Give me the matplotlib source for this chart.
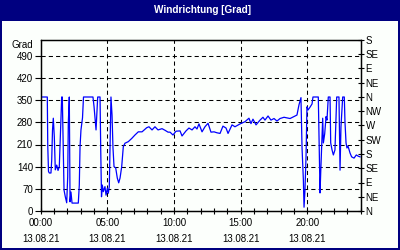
import matplotlib
matplotlib.use("Agg")
import matplotlib.pyplot as plt
from matplotlib.patches import Rectangle

# ---- data (hours since 13.08.21 00:00, wind direction in degrees) ----
hours = [0.0, 0.495, 0.53, 0.585, 0.645, 0.77, 0.825, 0.885, 0.945, 1.02, 1.095, 1.2, 1.3,
         1.395, 1.47, 1.52, 1.575, 1.62, 1.75, 1.845, 1.95, 2.025, 2.07, 2.145, 2.2, 2.27,
         2.35, 2.82, 2.895, 2.95, 3.02, 3.135, 3.21, 3.92, 4.0, 4.15, 4.275, 4.45, 4.5,
         4.56, 4.62, 4.695, 4.82, 4.9, 5.0, 5.07, 5.145, 5.2, 5.27, 5.35, 5.42, 5.5, 5.625,
         5.745, 5.85, 5.95, 6.075, 6.195, 6.32, 6.57, 6.825, 7.07, 7.32, 7.6, 7.95, 8.12,
         8.35, 8.57, 8.8, 9.1, 9.32, 9.55, 9.7, 9.92, 10.15, 10.45, 10.6, 10.9, 11.12, 11.35,
         11.57, 11.72, 11.87, 12.1, 12.32, 12.55, 12.77, 13.0, 13.22, 13.45, 13.67, 13.9,
         14.05, 14.35, 14.57, 14.95, 15.32, 15.62, 15.77, 15.92, 16.15, 16.45, 16.67, 16.82,
         17.05, 17.27, 17.5, 17.72, 17.95, 18.25, 18.7, 19.07, 19.22, 19.37, 19.52, 19.6,
         19.7, 19.75, 19.82, 19.9, 19.97, 20.05, 20.2, 20.35, 20.42, 20.82, 20.9, 20.95,
         21.0, 21.15, 21.2, 21.3, 21.4, 21.47, 21.57, 21.7, 21.75, 21.85, 21.95, 22.07,
         22.2, 22.37, 22.45, 22.52, 22.65, 22.77, 22.82, 22.9, 22.97, 23.05, 23.2, 23.32,
         23.5, 23.67, 23.82, 23.95]
direction = [360, 360, 205, 125, 120, 120, 160, 255, 293, 235, 130, 145, 128,
             140, 235, 300, 360, 360, 66, 45, 26, 108, 277, 360, 29, 60,
             25, 25, 82, 203, 256, 294, 360, 360, 330, 256, 360, 360, 200,
             45, 82, 61, 77, 50, 72, 56, 77, 200, 360, 303, 200, 140, 136,
             104, 89, 104, 140, 203, 214, 219, 229, 240, 250, 250, 263, 266,
             256, 266, 256, 260, 255, 249, 249, 240, 252, 253, 237, 253, 262, 256,
             266, 259, 275, 250, 266, 277, 249, 250, 247, 245, 268, 262,
             245, 272, 266, 275, 282, 293, 276, 290, 272, 287, 296, 287,
             300, 287, 292, 284, 292, 296, 292, 300, 303, 335, 358, 200,
             98, 12, 66, 171, 329, 319, 328, 338, 360, 360, 177, 57,
             120, 293, 215, 244, 298, 287, 360, 360, 215, 193, 177, 193,
             360, 360, 129, 266, 360, 360, 282, 215, 199, 205, 183, 171,
             167, 177, 173, 171]

left_ticks = [0, 70, 140, 210, 280, 350, 420, 490]
right_ticks = [0, 45, 90, 135, 180, 225, 270, 315, 360, 405, 450, 495, 540]
right_labels = ["N", "NE", "E", "SE", "S", "SW", "W", "NW", "N", "NE", "E", "SE", "S"]
x_major = [0, 5, 10, 15, 20]
time_labels = ["00:00", "05:00", "10:00", "15:00", "20:00"]
date_labels = ["13.08.21", "13.08.21", "13.08.21", "13.08.21", "13.08.21"]
title = "Windrichtung [Grad]"
unit = "Grad"

W, H = 400, 250
NAVY = "#000080"
plt.rcParams['font.family'] = ['Liberation Sans', 'DejaVu Sans']

fig = plt.figure(figsize=(W / 100, H / 100), dpi=100, facecolor=NAVY)
fig.patches.append(Rectangle((2 / W, 2 / H), 396 / W, 227 / H, transform=fig.transFigure,
                             facecolor="#FCFFFC", edgecolor="none", zorder=-10))
fig.text(202 / W, 1 - 10 / H, title, color="white", fontsize=7.2, fontweight="bold",
         ha="center", va="center")

ax = fig.add_axes([40.7 / W, 1 - 211 / H, 320 / W, 171 / H])
ax.set_facecolor("none")
ax.plot(hours, direction, color="#0000FF", lw=0.9, zorder=3)
ax.set_xlim(0, 24)
ax.set_ylim(0, 540)

ax.set_yticks(left_ticks)
ax.set_yticklabels([str(v) for v in left_ticks], fontsize=7)
ax.tick_params(axis="y", direction="out", length=4, width=0.8, pad=1.5, colors="black")
ax.set_xticks(x_major)
ax.set_xticklabels([])
ax.set_xticks(range(0, 25), minor=True)
ax.tick_params(axis="x", which="both", direction="inout", length=4, width=0.8)

for h, tl, dl in zip(x_major, time_labels, date_labels):
    ax.annotate(tl, xy=(h, 0), xycoords=("data", "axes fraction"), xytext=(0, -12),
                textcoords="offset pixels", ha="center", va="center", fontsize=7)
    ax.annotate(dl, xy=(h, 0), xycoords=("data", "axes fraction"), xytext=(0, -27.5),
                textcoords="offset pixels", ha="center", va="center", fontsize=7)

for v in left_ticks[1:]:
    ax.axhline(v, color="black", lw=0.75, dashes=(4, 3), zorder=1)
for h in x_major[1:]:
    ax.axvline(h, color="black", lw=0.75, dashes=(4, 3), zorder=1)

for s in ax.spines.values():
    s.set_linewidth(0.9)
    s.set_color("black")

ax2 = ax.twinx()
ax2.set_ylim(0, 540)
ax2.set_yticks(right_ticks)
ax2.set_yticklabels(right_labels, fontsize=7)
ax2.tick_params(axis="y", direction="inout", length=5, width=0.8, pad=1)
for s in ax2.spines.values():
    s.set_linewidth(0.9)

fig.text(33 / W, 1 - 45 / H, unit, fontsize=7, ha="right", va="center")

fig.savefig("out.png", dpi=100, facecolor=NAVY)
